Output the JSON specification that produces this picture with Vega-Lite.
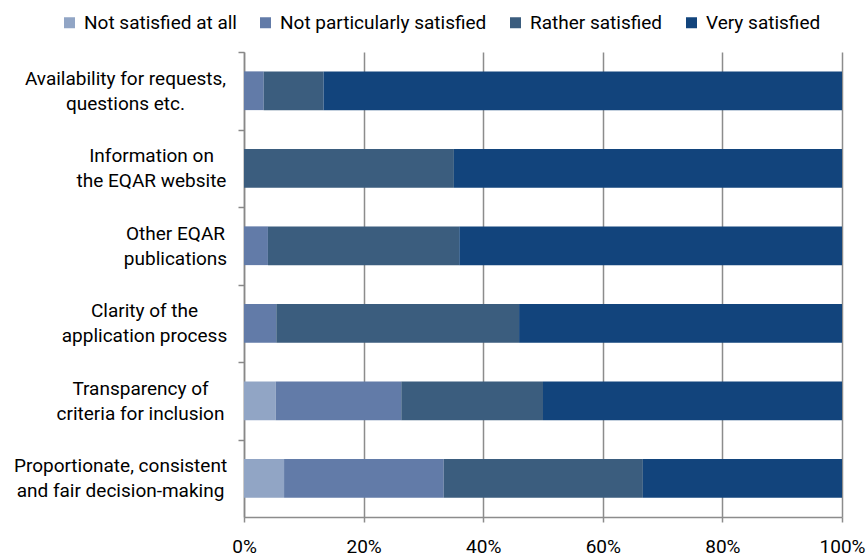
{
  "$schema": "https://vega.github.io/schema/vega-lite/v6.json",
  "autosize": "none",
  "width": 598,
  "height": 465,
  "padding": {"left": 244, "top": 52, "right": 24, "bottom": 41},
  "background": "white",
  "config": {
    "font": "Roboto",
    "view": {"stroke": null}
  },
  "data": {
    "values": [
      {"item": "Availability for requests,|questions etc.", "response": "Not particularly satisfied", "k": 2, "pct": 3.3},
      {"item": "Availability for requests,|questions etc.", "response": "Rather satisfied", "k": 3, "pct": 10.0},
      {"item": "Availability for requests,|questions etc.", "response": "Very satisfied", "k": 4, "pct": 86.7},
      {"item": "Information on|the EQAR website", "response": "Rather satisfied", "k": 3, "pct": 35.1},
      {"item": "Information on|the EQAR website", "response": "Very satisfied", "k": 4, "pct": 64.9},
      {"item": "Other EQAR|publications", "response": "Not particularly satisfied", "k": 2, "pct": 4.0},
      {"item": "Other EQAR|publications", "response": "Rather satisfied", "k": 3, "pct": 32.0},
      {"item": "Other EQAR|publications", "response": "Very satisfied", "k": 4, "pct": 64.0},
      {"item": "Clarity of the|application process", "response": "Not particularly satisfied", "k": 2, "pct": 5.4},
      {"item": "Clarity of the|application process", "response": "Rather satisfied", "k": 3, "pct": 40.6},
      {"item": "Clarity of the|application process", "response": "Very satisfied", "k": 4, "pct": 54.0},
      {"item": "Transparency of|criteria for inclusion", "response": "Not satisfied at all", "k": 1, "pct": 5.3},
      {"item": "Transparency of|criteria for inclusion", "response": "Not particularly satisfied", "k": 2, "pct": 21.0},
      {"item": "Transparency of|criteria for inclusion", "response": "Rather satisfied", "k": 3, "pct": 23.7},
      {"item": "Transparency of|criteria for inclusion", "response": "Very satisfied", "k": 4, "pct": 50.0},
      {"item": "Proportionate, consistent|and fair decision-making", "response": "Not satisfied at all", "k": 1, "pct": 6.7},
      {"item": "Proportionate, consistent|and fair decision-making", "response": "Not particularly satisfied", "k": 2, "pct": 26.7},
      {"item": "Proportionate, consistent|and fair decision-making", "response": "Rather satisfied", "k": 3, "pct": 33.3},
      {"item": "Proportionate, consistent|and fair decision-making", "response": "Very satisfied", "k": 4, "pct": 33.3}
    ]
  },
  "mark": {"type": "bar"},
  "encoding": {
    "y": {
      "field": "item",
      "type": "nominal",
      "sort": [
        "Availability for requests,|questions etc.",
        "Information on|the EQAR website",
        "Other EQAR|publications",
        "Clarity of the|application process",
        "Transparency of|criteria for inclusion",
        "Proportionate, consistent|and fair decision-making"
      ],
      "scale": {"paddingInner": 0.5, "paddingOuter": 0.25},
      "axis": {
        "title": null,
        "labelExpr": "split(datum.value, '|')",
        "labelFontSize": 19,
        "labelColor": "#000000",
        "labelLineHeight": 25,
        "labelAlign": "center",
        "labelPadding": {
          "condition": [
            {"test": "datum.value == 'Availability for requests,|questions etc.'", "value": 113},
            {"test": "datum.value == 'Information on|the EQAR website'", "value": 87},
            {"test": "datum.value == 'Other EQAR|publications'", "value": 63},
            {"test": "datum.value == 'Clarity of the|application process'", "value": 94},
            {"test": "datum.value == 'Transparency of|criteria for inclusion'", "value": 98}
          ],
          "value": 118
        },
        "labelLimit": 300,
        "tickOffset": -38.75,
        "labelOffset": 26.25,
        "tickSize": 6,
        "tickColor": "#888888",
        "tickWidth": 1.5,
        "domainColor": "#888888",
        "domainWidth": 1.5,
        "grid": false
      }
    },
    "x": {
      "field": "pct",
      "type": "quantitative",
      "stack": "normalize",
      "scale": {"domain": [0, 1]},
      "axis": {
        "title": null,
        "values": [0, 0.2, 0.4, 0.6, 0.8, 1],
        "format": ".0%",
        "labelFontSize": 19,
        "labelColor": "#000000",
        "labelPadding": 15,
        "grid": true,
        "gridColor": "#8c8c8c",
        "gridWidth": 1.5,
        "tickSize": 5,
        "tickColor": "#8c8c8c",
        "tickWidth": 1.5,
        "domainColor": "#8c8c8c",
        "domainWidth": 1.5,
        "labelFlush": false
      }
    },
    "color": {
      "field": "response",
      "type": "nominal",
      "scale": {
        "domain": ["Not satisfied at all", "Not particularly satisfied", "Rather satisfied", "Very satisfied"],
        "range": ["#91a5c5", "#627ba8", "#3b5d7e", "#12447c"]
      },
      "legend": {
        "title": null,
        "orient": "none",
        "direction": "horizontal",
        "legendX": -184,
        "legendY": -39,
        "symbolType": "square",
        "symbolSize": 121,
        "symbolStrokeWidth": 0,
        "labelFontSize": 19,
        "labelColor": "#000000",
        "labelOffset": 5,
        "columnPadding": 19,
        "labelLimit": 300
      }
    },
    "order": {"field": "k", "type": "quantitative"}
  }
}
